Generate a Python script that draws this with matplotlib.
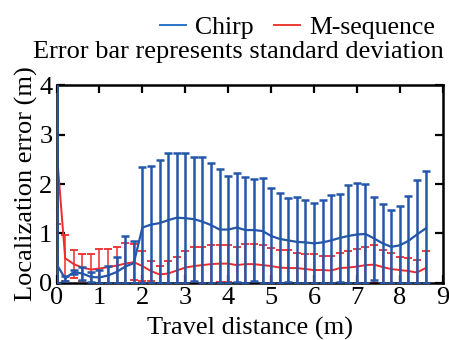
import numpy as np
import matplotlib
matplotlib.use('Agg')
import matplotlib.pyplot as plt

plt.rcParams['font.family'] = ['Liberation Serif', 'DejaVu Serif']

# travel distance samples (m), one every 0.2 m
dist = np.round(np.arange(44) * 0.2, 1)

# Chirp: mean localization error and standard deviation (m)
chirp_mean = [0.38, 0.09, 0.22, 0.19, 0.12, 0.11, 0.15, 0.22, 0.33, 0.40,
              1.12, 1.18, 1.21, 1.27, 1.32, 1.31, 1.29, 1.24, 1.17, 1.08,
              1.08, 1.12, 1.07, 1.07, 1.05, 0.95, 0.89, 0.86, 0.83, 0.82,
              0.80, 0.82, 0.86, 0.91, 0.95, 0.98, 0.99, 0.90, 0.80, 0.73,
              0.76, 0.85, 0.98, 1.10]
chirp_std = [4.12, 0.05, 0.04, 0.14, 0.10, 0.15, 0.19, 0.30, 0.61, 0.44,
             1.22, 1.19, 1.27, 1.37, 1.32, 1.31, 1.26, 1.30, 1.25, 1.22,
             1.09, 1.10, 1.07, 1.03, 1.07, 0.98, 0.92, 0.85, 0.90, 0.86,
             0.81, 0.86, 0.92, 0.89, 1.03, 1.05, 1.01, 0.84, 0.80, 0.74,
             0.79, 0.91, 1.10, 1.16]

# M-sequence: mean localization error and standard deviation (m)
mseq_mean = [2.70, 0.50, 0.38, 0.31, 0.27, 0.29, 0.32, 0.35, 0.39, 0.42,
             0.34, 0.24, 0.17, 0.19, 0.25, 0.31, 0.34, 0.36, 0.38, 0.39,
             0.39, 0.36, 0.38, 0.38, 0.36, 0.34, 0.31, 0.30, 0.30, 0.28,
             0.26, 0.26, 0.25, 0.30, 0.31, 0.33, 0.36, 0.37, 0.32, 0.28,
             0.26, 0.24, 0.21, 0.30]
mseq_std = [1.50, 0.47, 0.29, 0.27, 0.31, 0.40, 0.37, 0.38, 0.41, 0.36,
            0.31, 0.21, 0.18, 0.26, 0.28, 0.34, 0.38, 0.36, 0.38, 0.37,
            0.37, 0.37, 0.40, 0.40, 0.41, 0.36, 0.35, 0.36, 0.30, 0.31,
            0.33, 0.29, 0.30, 0.30, 0.33, 0.35, 0.37, 0.40, 0.35, 0.33,
            0.26, 0.26, 0.26, 0.35]

blue = '#2456aa'
red = '#ee2b2b'

fig = plt.figure(figsize=(4.49, 3.40), dpi=100)
ax = fig.add_axes([0.126, 0.168, 0.860, 0.581])

# errors can't go below zero, so clip the lower half of each bar
mr = np.array(mseq_mean)
sr = np.array(mseq_std)
mb = np.array(chirp_mean)
sb = np.array(chirp_std)

ax.errorbar(dist, mr, yerr=[np.minimum(sr, mr), sr], color=red, lw=1.4,
            elinewidth=1.1, capsize=3.0, capthick=1.3, zorder=2)
ax.errorbar(dist, mb, yerr=[np.minimum(sb, mb), sb], color=blue, lw=1.6,
            elinewidth=1.8, capsize=3.0, capthick=1.8, zorder=3)

ax.set_xlim(0, 9)
ax.set_ylim(0, 4)
ax.set_xticks(range(0, 10))
ax.set_yticks(range(0, 5))
ax.tick_params(direction='in', top=True, right=True, length=6, width=1.6,
               labelsize=19)
ax.tick_params(axis='x', pad=3)
ax.tick_params(axis='y', pad=3)
for sp in ax.spines.values():
    sp.set_linewidth(1.8)
ax.set_xlabel('Travel distance (m)', fontsize=19, labelpad=6)
ax.set_ylabel('Localization error (m)', fontsize=19, labelpad=1)

handles = [plt.Line2D([], [], color='#2a73c8', lw=1.4),
           plt.Line2D([], [], color='#ee3b33', lw=1.4)]
fig.legend(handles, ['Chirp', 'M-sequence'], loc='upper right',
           bbox_to_anchor=(1.02, 1.02), ncol=2, frameon=False, fontsize=18.5,
           handlelength=1.0, handletextpad=0.35, columnspacing=0.8)
fig.text(0.988, 0.847, 'Error bar represents standard deviation',
         ha='right', va='center', fontsize=19)

fig.savefig('out.png', dpi=100)
